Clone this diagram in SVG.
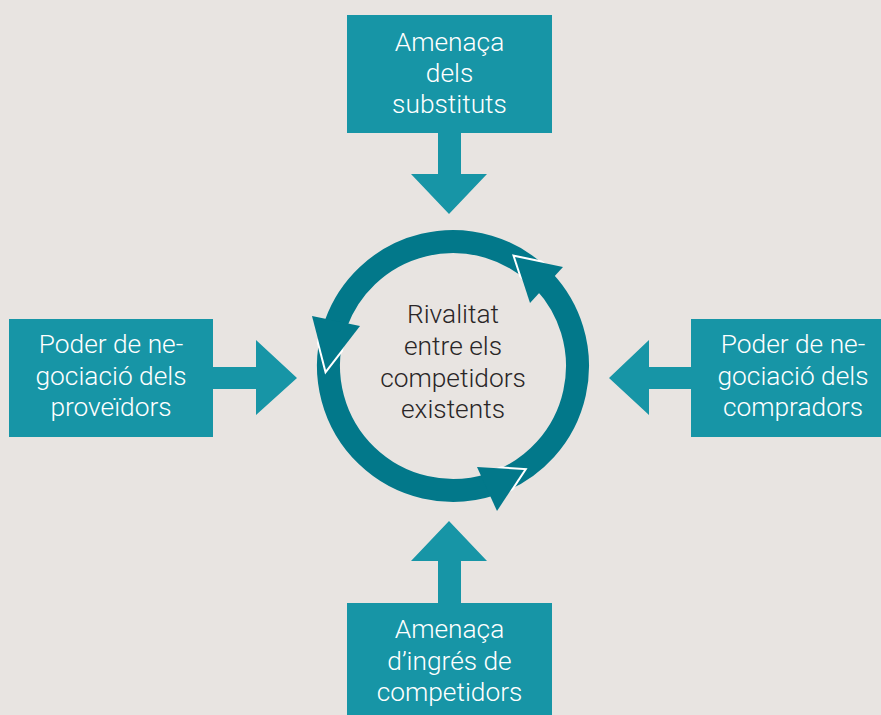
<svg xmlns="http://www.w3.org/2000/svg" width="881" height="715" viewBox="0 0 881 715">
<style>
.box{fill:#1795a6}
.lbl{font-family:Roboto,"Liberation Sans",Arial,sans-serif;font-weight:300;font-size:26.3px;fill:#ffffff;text-anchor:middle}
.ctr{font-family:Roboto,"Liberation Sans",Arial,sans-serif;font-weight:300;font-size:26.3px;fill:#2a2627;text-anchor:middle}
.ring{fill:none;stroke:#02788a;stroke-width:23}
.head{fill:#02788a}
.edge{fill:none;stroke:#ffffff;stroke-width:4;stroke-linejoin:miter}
.conn{fill:#1795a6}
</style>
<defs>
<clipPath id="annulus">
<path clip-rule="evenodd" d="M453,228 A138,138 0 1 1 452.99,228 Z M453,255 A111,111 0 1 0 453.01,255 Z"/>
</clipPath>
</defs>
<rect width="881" height="715" fill="#e8e4e1"/>
<g id="connectors">
<polygon class="conn" points="438,132 461,132 461,174 487,174 449,214 411,174 438,174"/>
<polygon class="conn" points="438,604 461,604 461,561 487,561 449,521 411,561 438,561"/>
<polygon class="conn" points="212,367 256,367 256,340 297,378 256,415 256,389 212,389"/>
<polygon class="conn" points="692,367 649,367 649,340 609,378 649,415 649,389 692,389"/>
</g>
<g id="rivalitat">
<path class="ring" d="M537.91,274.95 A124.5,124.5 0 0 0 336.01,323.42"/>
<path class="ring" d="M333.32,331.68 A124.5,124.5 0 0 0 491.47,484.41"/>
<path class="ring" d="M499.64,481.43 A124.5,124.5 0 0 0 544.05,281.09"/>
<g clip-path="url(#annulus)">
<polyline class="edge" points="312,316 326,370 360,326"/>
<polyline class="edge" points="477,467 524,470 497,511"/>
<polyline class="edge" points="563,267 515,257 530,303"/>
</g>
<polygon class="head" points="312,316 360,326 326,370"/>
<polygon class="head" points="477,467 497,511 524,470"/>
<polygon class="head" points="563,267 530,303 515,257"/>
<text class="ctr" x="453" y="323">Rivalitat</text>
<text class="ctr" x="453" y="355">entre els</text>
<text class="ctr" x="453" y="387">competidors</text>
<text class="ctr" x="453" y="418">existents</text>
</g>
<g id="substituts">
<rect class="box" x="347" y="15" width="205" height="118"/>
<text class="lbl" x="449.5" y="51">Amenaça</text>
<text class="lbl" x="449.5" y="82">dels</text>
<text class="lbl" x="449.5" y="113">substituts</text>
</g>
<g id="entrants">
<rect class="box" x="347" y="603" width="205" height="118"/>
<text class="lbl" x="449.5" y="638">Amenaça</text>
<text class="lbl" x="449.5" y="670">d’ingrés de</text>
<text class="lbl" x="449.5" y="701">competidors</text>
</g>
<g id="proveidors">
<rect class="box" x="9" y="319" width="204" height="118"/>
<text class="lbl" x="111" y="353">Poder de ne-</text>
<text class="lbl" x="111" y="385">gociació dels</text>
<text class="lbl" x="111" y="416">proveïdors</text>
</g>
<g id="compradors">
<rect class="box" x="691" y="319" width="204" height="118"/>
<text class="lbl" x="793" y="353">Poder de ne-</text>
<text class="lbl" x="793" y="385">gociació dels</text>
<text class="lbl" x="793" y="416">compradors</text>
</g>
</svg>
